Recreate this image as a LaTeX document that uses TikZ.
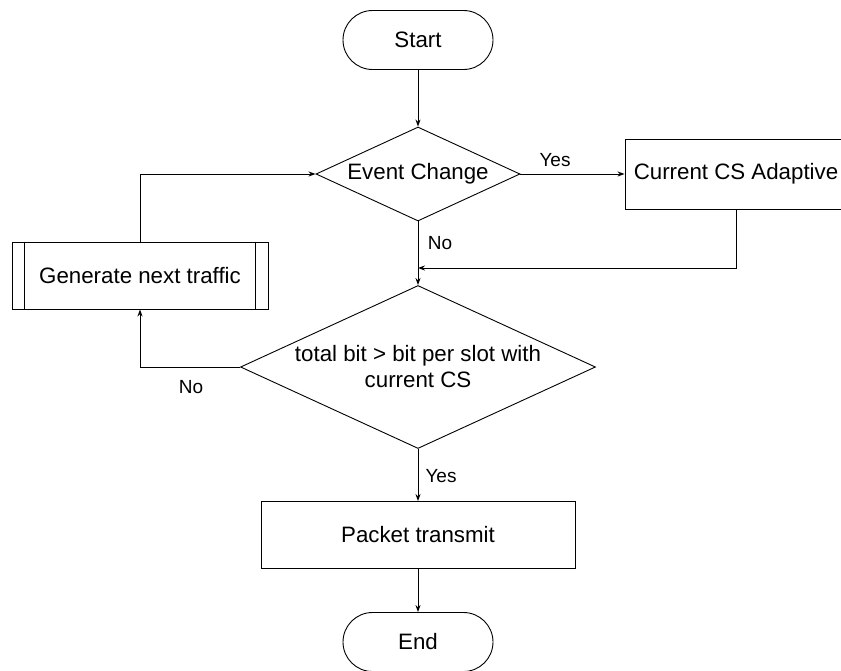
\documentclass[tikz,border=0pt]{standalone}
\usepackage{fontspec}
\setmainfont{Liberation Sans}
\usetikzlibrary{shapes.geometric,arrows.meta}
\begin{document}
\begin{tikzpicture}[x=1pt,y=-1pt,
  every node/.style={font=\fontsize{22.3}{26}\selectfont},
  base/.style={draw, line width=0.9pt, inner sep=0pt, align=center},
  terminal/.style={base, rectangle, rounded corners=29.5pt, minimum width=150pt, minimum height=59pt},
  process/.style={base, rectangle, minimum height=67pt},
  decision/.style={base, diamond},
  tag/.style={font=\fontsize{19}{22}\selectfont, inner sep=0pt},
  flow/.style={line width=0.9pt, -{Stealth[length=7pt,width=5pt]}}
]
\useasboundingbox (0,0) rectangle (841,670);

% nodes
\node[terminal] (start) at (418,40) {Start};
\node[decision, minimum width=204pt, minimum height=94pt, aspect=2.17] (event) at (418,174) {Event Change};
\node[process, minimum width=222pt, minimum height=70pt] (adapt) at (736,174) {Current CS Adaptive};
\node[process, minimum width=256pt] (gen) at (140,275.5) {Generate next traffic};
\draw[line width=0.9pt] ([xshift=13pt]gen.north west) -- ([xshift=13pt]gen.south west);
\draw[line width=0.9pt] ([xshift=-13pt]gen.north east) -- ([xshift=-13pt]gen.south east);
\node[decision, minimum width=355pt, minimum height=163pt, aspect=2.18] (check) at (418,367) {total bit > bit per slot with\\current CS};
\node[process, minimum width=314pt] (tx) at (418,535) {Packet transmit};
\node[terminal] (end) at (418,642) {End};
\coordinate (join) at (418,268);

% connectors
\draw[flow] (start) -- (event);
\draw[flow] (event.east) -- (adapt.west);
\draw[flow] (event.south) -- (check.north);
\draw[flow] (adapt.south) |- (join);
\draw[flow] (gen.north) |- (event.west);
\draw[flow] (check.west) -| (gen.south);
\draw[flow] (check.south) -- (tx.north);
\draw[flow] (tx.south) -- (end.north);

% branch labels
\node[tag] (yes1) at (555,160) {Yes};
\node[tag] (no1) at (440,243) {No};
\node[tag] (no2) at (191,387) {No};
\node[tag] (yes2) at (441,476) {Yes};
\end{tikzpicture}
\end{document}
